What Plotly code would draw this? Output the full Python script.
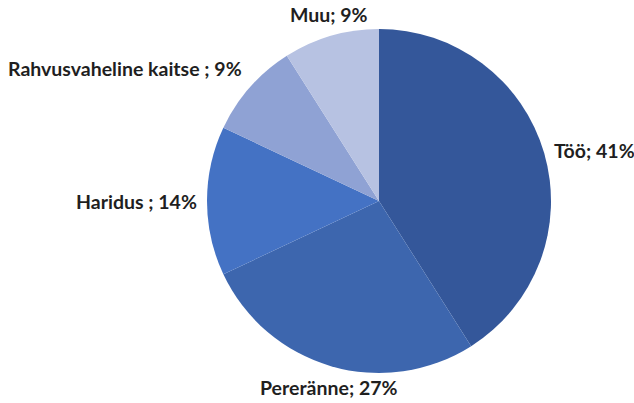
import math
import plotly.graph_objects as go

labels = ["Töö", "Pereränne", "Haridus ", "Rahvusvaheline kaitse ", "Muu"]
values = [41, 27, 14, 9, 9]
colors = ["#34579A", "#3D66AE", "#4472C4", "#8FA2D4", "#B7C2E2"]

W, H = 634, 403
dom_x = [207 / W, 551 / W]
dom_y = [30 / H, 374 / H]

fig = go.Figure(go.Pie(
    labels=labels,
    values=values,
    textinfo="none",
    sort=False,
    direction="clockwise",
    rotation=0,
    marker=dict(colors=colors, line=dict(width=0)),
    domain=dict(x=dom_x, y=dom_y),
    showlegend=False,
    hoverinfo="label+percent",
))

# data labels placed just outside each slice's mid-angle
cx = (dom_x[0] + dom_x[1]) / 2 * W
cy = (dom_y[0] + dom_y[1]) / 2 * H
R = (dom_x[1] - dom_x[0]) * W / 2
total = sum(values)
cum = 0
for lab, v in zip(labels, values):
    mid = (cum + v / 2) / total * 2 * math.pi
    cum += v
    s, c = math.sin(mid), math.cos(mid)
    rl = R + 8
    px = cx + rl * s
    py = cy + rl * c
    xa = "left" if s > 0.4 else ("right" if s < -0.4 else "center")
    ya = "middle" if abs(c) < 0.5 else ("bottom" if c > 0 else "top")
    fig.add_annotation(
        x=px / W, y=py / H, xref="paper", yref="paper",
        text=f"<b>{lab}; {v}%</b>", showarrow=False,
        xanchor=xa, yanchor=ya,
        font=dict(family="Lato", size=19.5, color="#1f1f1f"),
    )

fig.update_layout(
    width=W, height=H,
    margin=dict(l=0, r=0, t=0, b=0),
    paper_bgcolor="white",
    plot_bgcolor="white",
)
fig.write_html("out.html", config={"displayModeBar": False},
               post_script="document.body.style.margin='0';")
